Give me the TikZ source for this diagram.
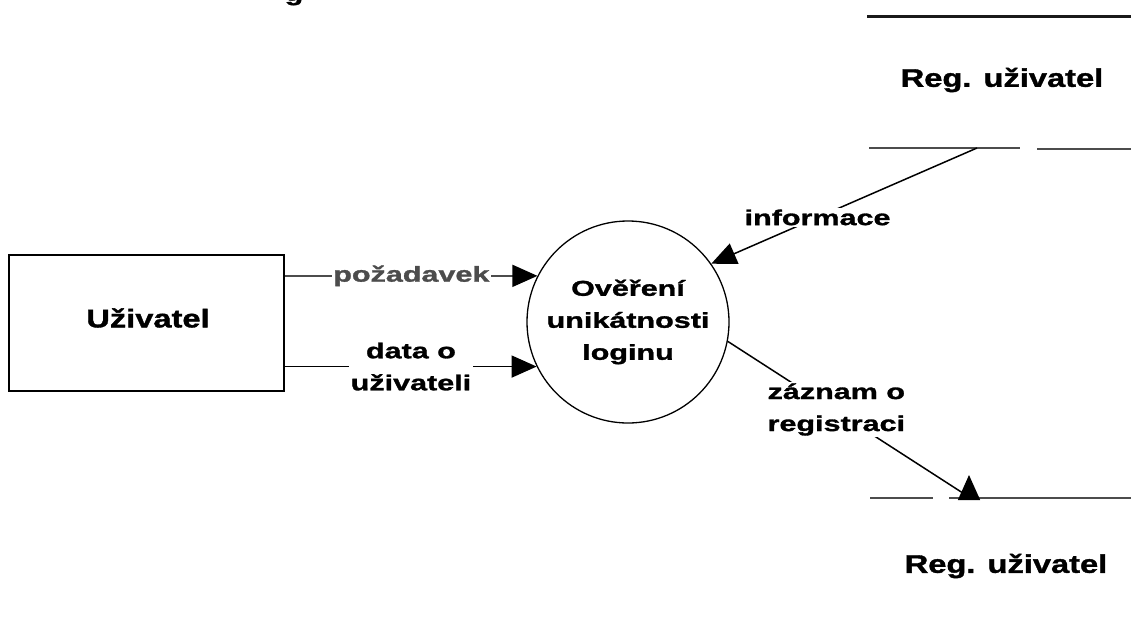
\documentclass[tikz,border=0pt]{standalone}
\usepackage{fontspec}
\usetikzlibrary{arrows.meta}
% wide, heavy sans faces for flow labels and for entities/stores
\newfontfamily\flowfont{Liberation Sans}[FakeStretch=1.42, FakeBold=1.4]
\newfontfamily\entfont{Liberation Sans}[FakeStretch=1.28, FakeBold=1.4]

\begin{document}
\begin{tikzpicture}[x=1pt,y=-1pt,
  lbl/.style={font=\flowfont\bfseries\fontsize{21.5}{32}\selectfont, fill=white, inner sep=1.5pt, align=center},
  enttext/.style={font=\entfont\bfseries\fontsize{25.5}{30}\selectfont, inner sep=0pt},
  entity/.style={draw, line width=2.5pt, minimum width=275pt, minimum height=136pt, inner sep=0pt},
  process/.style={draw, circle, line width=1.3pt, minimum size=202pt, inner sep=0pt,
    font=\flowfont\bfseries\fontsize{21.5}{32}\selectfont, align=center},
  storeline/.style={line width=2.5pt, black!70},
  flow/.style={line width=1.5pt, -{Triangle[length=25pt,width=22pt,black]}}
]
\useasboundingbox (0,0) rectangle (1131,624);

% heading text running off the top edge: only its descender stays on the page
\begin{scope}
  \clip (0,0) rectangle (1131,624);
  \node[font=\flowfont\bfseries\fontsize{21.5}{32}\selectfont, anchor=south, inner sep=0pt] (head) at (294,5.5) {g};
\end{scope}

% external entity
\node[entity] (user) at (146.5,323) {};
\node[enttext] (usertext) at (148,318) {Uživatel};

% process
\node[process] (proc) at (628,322) {Ověření\\unikátnosti\\loginu};

% data store at the top
\coordinate (s1a) at (867,16);  \coordinate (s1b) at (1131,16);
\coordinate (s1c) at (869,148); \coordinate (s1d) at (1020,148);
\coordinate (s1e) at (1037,149); \coordinate (s1f) at (1131,149);
\coordinate (s1out) at (977,148);
\draw[line width=3pt, black!90] (s1a) -- (s1b);
\draw[storeline] (s1c) -- (s1d);
\draw[storeline] (s1e) -- (s1f);
\node[enttext] (store1) at (1002,80) {Reg. uživatel};

% data store at the bottom
\coordinate (s2a) at (870,498); \coordinate (s2b) at (933,498);
\coordinate (s2c) at (949,498); \coordinate (s2d) at (1131,498);
\coordinate (s2in) at (969,497); \coordinate (s2tip) at (969,475);
\draw[storeline] (s2a) -- (s2b);
\draw[storeline] (s2c) -- (s2d);
\node[enttext] (store2) at (1006,566) {Reg. uživatel};

% data flows
\draw[flow, black!70] (user.east |- proc.153.5) -- node[lbl] (f1) {požadavek} (proc.153.5);
\draw[flow] (user.east |- proc.206.5) -- node[lbl] (f2) {data o\\uživateli} (proc.206.5);
\draw[flow] (s1out) -- node[lbl, pos=0.6] (f3) {informace} (proc.35.5);
\draw[flow] (proc.349) -- node[lbl, pos=0.45, yshift=2pt] (f4) {záznam o\\registraci} (s2in) -- (s2tip);
\end{tikzpicture}
\end{document}
